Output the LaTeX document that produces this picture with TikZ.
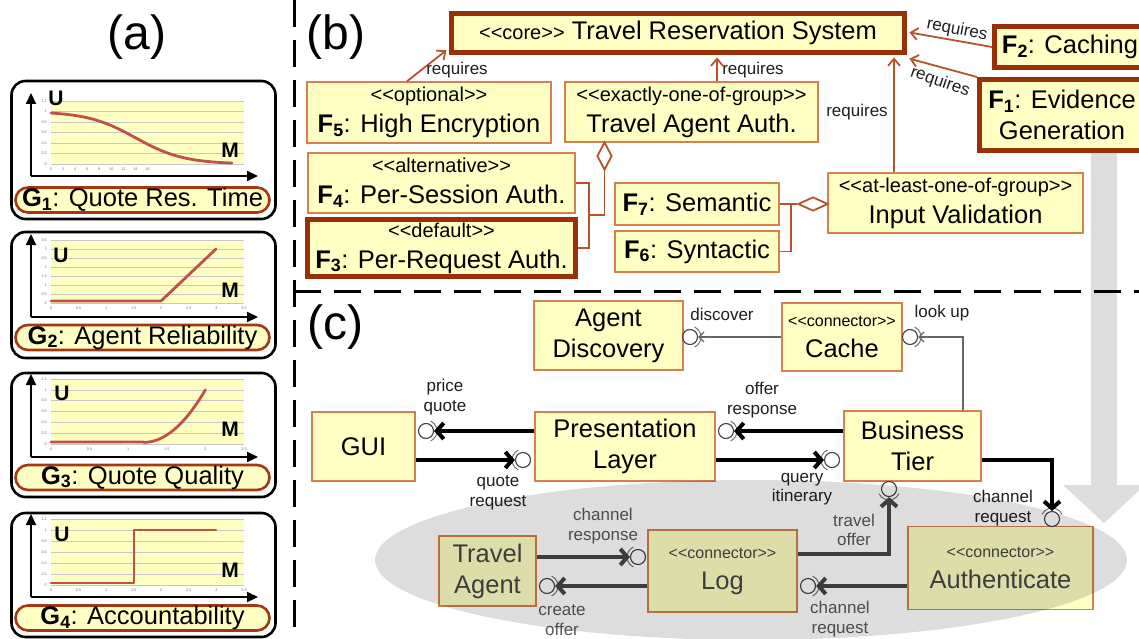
\documentclass[tikz,border=0pt]{standalone}
\usepackage{fontspec}
\setmainfont{Liberation Sans}
\usetikzlibrary{arrows.meta,shapes.geometric,calc}

\definecolor{boxfill}{RGB}{255,255,196}
\definecolor{boxline}{RGB}{214,128,76}
\definecolor{thickline}{RGB}{153,48,8}
\definecolor{reqline}{RGB}{183,82,42}
\definecolor{pillline}{RGB}{165,55,20}
\definecolor{plotyel}{RGB}{255,255,194}
\definecolor{curvered}{RGB}{192,80,77}
\definecolor{cfggray}{RGB}{221,221,221}

\newcommand\fmn{\fontsize{25.5}{31}\selectfont}
\newcommand\fst{\fontsize{20}{22}\selectfont}
\newcommand\fcn{\fontsize{16}{18}\selectfont}
\newcommand\flab{\fontsize{17}{19.5}\selectfont}
\newcommand\fpanel{\fontsize{48}{50}\selectfont}
\newcommand\ftick{\fontsize{3.8}{4}\selectfont}
\newcommand\stereo[1]{<\kern0pt<#1>\kern0pt>}
\newcommand\feat[2]{\textbf{#1\textsubscript{#2}}}
% socket half-circle around a ball, opening towards angle #2
\newcommand\sockarc[2]{\draw[sockstroke] ($(#1)+({#2-65}:11)$) arc[start angle={#2-65}, end angle={#2+65}, radius=11];}
% utility chart: #1 tag, #2 x-axis y, #3 plot top, #4 plot bottom,
% #5 y tick labels, #6 x tick labels, #7 y intervals, #8 x intervals
\newcommand\chart[8]{%
  \fill[plotyel] (51,#3) rectangle (244,#4);
  \foreach \v [count=\i from 0] in {#5} {
    \draw[gridl] (51,{#4-(#4-#3)*\i/#7}) -- (244,{#4-(#4-#3)*\i/#7});
    \node[tick,anchor=east] (#1y\i) at (47,{#4-(#4-#3)*\i/#7}) {\v};
  }
  \foreach \v [count=\i from 0] in {#6}
    \node[tick,anchor=north] (#1x\i) at ({51+193*\i/#8},{#4+4}) {\v};
  \draw[axisline] (31,#2) -- (31,{#2-83});
  \draw[axisline] (31,#2) -- (258,#2);
}

\begin{document}
\begin{tikzpicture}[x=1pt,y=-1pt,
  fbox/.style={draw=boxline, line width=1.5pt, fill=boxfill, inner sep=0pt, align=center, font=\fmn},
  fthick/.style={fbox, draw=thickline, line width=5pt},
  dimbox/.style={fbox, text=black!72},
  lab/.style={font=\flab, inner sep=0pt, align=center, text=black!88},
  dimlab/.style={lab, text=black!65},
  req/.style={draw=reqline, line width=1.8pt, -{Straight Barb[length=7pt,width=12pt]}},
  grp/.style={draw=reqline, line width=1.8pt},
  dia/.style={diamond, draw=reqline, line width=1.8pt, fill=white, inner sep=0pt},
  conn/.style={line width=4pt, -{Straight Barb[length=7pt,width=16pt]}},
  dimconn/.style={conn, draw=black!72},
  thinconn/.style={draw=black!60, line width=1.2pt, -{Straight Barb[length=5pt,width=10pt]}},
  ball/.style={circle, draw=black!75, line width=1.1pt, minimum size=15pt, inner sep=0pt},
  sockstroke/.style={draw=black!55, line width=1pt},
  gframe/.style={draw=black, line width=2.6pt, rounded corners=14pt, minimum width=264pt, inner sep=0pt},
  pill/.style={draw=pillline, line width=2.6pt, fill=boxfill, rounded corners=12.5pt, minimum width=254pt, minimum height=25pt, inner sep=0pt, font=\fmn},
  axisline/.style={line width=2.2pt, -{Triangle[length=11pt,width=10pt]}},
  gridl/.style={draw=black!22, line width=0.6pt},
  curve/.style={draw=curvered, line width=2.8pt, line join=round, line cap=round},
  axlab/.style={font=\fontsize{21}{21}\selectfont\bfseries, inner sep=0pt},
  tick/.style={font=\ftick, text=black!55, inner sep=0pt},
  panel/.style={font=\fpanel, inner sep=0pt},
  dashsep/.style={line width=3pt, dash pattern=on 27pt off 13pt}]

\useasboundingbox (0,0) rectangle (1139,639);
\clip (0,0) rectangle (1139,639);
\fill[white] (0,0) rectangle (1139,639);

% configuration arrow from (b) down to (c)
\fill[cfggray] (1091,153) rectangle (1117,486);
\fill[cfggray] (1063,485) -- (1145,485) -- (1104,523) -- cycle;

% panel separators
\draw[dashsep] (294,0) -- (294,639);
\draw[dashsep] (294,291) -- (1139,291);

% ---------------- (a) utility curves ----------------
\node[panel] (pa) at (137,37) {(a)};

\node[gframe, minimum height=138pt] (g1frame) at (143.5,150) {};
\node[gframe, minimum height=126pt] (g2frame) at (143.5,295) {};
\node[gframe, minimum height=124pt] (g3frame) at (143.5,435) {};
\node[gframe, minimum height=124pt] (g4frame) at (143.5,575) {};

\chart{a}{176}{101}{164}{0,0.2,0.4,0.6,0.8,1,1.2}{0,2,4,6,8,10,12,14,16}{6}{16}
\draw[curve] plot[domain=0:15,samples=80,smooth] ({51+\x*193/16},{164-52.5/(1+exp((\x-7)/2))});
\node[axlab] (u1) at (56,98) {U};
\node[axlab] (m1) at (230,150) {M};

\chart{b}{317}{240}{303}{0,0.5,1,1.5,2,2.5,3,3.5}{0,0.5,1,1.5,2,2.5,3,3.5}{7}{7}
\draw[curve] (51,301) -- (161,301) -- (216,249);
\node[axlab] (u2) at (61,255) {U};
\node[axlab] (m2) at (230,290) {M};

\chart{c}{457}{379}{444}{0,0.2,0.4,0.6,0.8,1,1.2}{0,0.5,1,1.5,2,2.5}{6}{5}
\draw[curve] (51,442) -- (143.6,442) -- plot[domain=1.2:2,samples=40,smooth] ({51+\x*193/2.5},{444-54.17*(0.03+0.97*((\x-1.2)/0.8)^2)});
\node[axlab] (u3) at (62,393) {U};
\node[axlab] (m3) at (230,429) {M};

\chart{d}{597}{519}{585}{0,0.2,0.4,0.6,0.8,1,1.2}{0,0.5,1,1.5,2,2.5,3,3.5}{6}{7}
\draw[curve] (51,583) -- (134,583) -- (134,530) -- (216,530);
\node[axlab] (u4) at (62,534) {U};
\node[axlab] (m4) at (230,570) {M};

\node[pill] (g1) at (142.5,200) {\feat{G}{1}: Quote Res. Time};
\node[pill] (g2) at (142.5,337.5) {\feat{G}{2}: Agent Reliability};
\node[pill] (g3) at (142.5,477.5) {\feat{G}{3}: Quote Quality};
\node[pill] (g4) at (142.5,618) {\feat{G}{4}: Accountability};

% ---------------- (b) feature model ----------------
\node[panel] (pb) at (336,37) {(b)};

\node[fthick, minimum width=453pt, minimum height=39pt] (core) at (678,33)
  {{\fst\stereo{core}} Travel Reservation System};
\node[fthick, minimum width=151pt, minimum height=41pt] (f2) at (1070,47)
  {\feat{F}{2}: Caching};
\node[fthick, minimum width=165pt, minimum height=71pt] (f1) at (1062,115)
  {\feat{F}{1}: Evidence\\Generation};
\node[fbox, minimum width=244pt, minimum height=61pt] (f5) at (429,112.5)
  {{\fst\stereo{optional}}\\\feat{F}{5}: High Encryption};
\node[fbox, minimum width=253pt, minimum height=60pt] (taa) at (691.5,112)
  {{\fst\stereo{exactly-one-of-group}}\\Travel Agent Auth.};
\node[fbox, minimum width=267pt, minimum height=60pt] (f4) at (441.5,183)
  {{\fst\stereo{alternative}}\\\feat{F}{4}: Per-Session Auth.};
\node[fthick, minimum width=268pt, minimum height=57pt] (f3) at (441.5,248)
  {{\fst\stereo{default}}\\\feat{F}{3}: Per-Request Auth.};
\node[fbox, minimum width=164pt, minimum height=42pt] (f7) at (697,204)
  {\feat{F}{7}: Semantic};
\node[fbox, minimum width=164pt, minimum height=41pt] (f6) at (697,251.5)
  {\feat{F}{6}: Syntactic};
\node[fbox, minimum width=255pt, minimum height=60pt] (iv) at (955.5,203)
  {{\fst\stereo{at-least-one-of-group}}\\Input Validation};

% requires dependencies
\draw[req, shorten >=2pt] ($(f5.north)+(-22,0)$) -- ($(core.south west)+(-1,-6)$);
\node[lab] (rq1) at (457,70) {requires};
\draw[req, shorten >=2.5pt] ($(taa.north)+(25.5,0)$) coordinate (rt) -- (rt |- core.south);
\node[lab] (rq2) at (753,70) {requires};
\draw[req, shorten >=2.5pt] ($(iv.north)+(-61.5,0)$) coordinate (ri) -- (ri |- core.south);
\node[lab] (rq3) at (857,112) {requires};
\draw[req, shorten >=2.5pt] (f2.west) -- ($(core.east)+(0,-1)$);
\node[lab, rotate=-11] (rq4) at (957,30) {requires};
\draw[req, shorten >=2.5pt] (f1.north west) -- ($(core.south east)+(0,3)$);
\node[lab, rotate=-19] (rq5) at (940,82) {requires};

% group relations
\node[dia, minimum width=15pt, minimum height=28pt] (d1) at (604.5,156) {};
\coordinate (j1) at (589,215);
\draw[grp] (d1.south) |- (j1);
\draw[grp] (f4.east) -| (j1) |- (f3.east);
\node[dia, minimum width=30pt, minimum height=14pt] (d2) at (813,204) {};
\coordinate (j2) at (791,204);
\draw[grp] (f7.east) -- (d2.west);
\draw[grp] (f6.east) -| (j2);

% ---------------- (c) component architecture ----------------
\node[panel] (pc) at (335,327) {(c)};

\node[fbox, minimum width=149pt, minimum height=69pt] (ad) at (608.5,335.5) {Agent\\Discovery};
\node[fbox, minimum width=120pt, minimum height=68pt] (cache) at (842,337) {{\fcn\stereo{connector}}\\Cache};
\node[fbox, minimum width=103pt, minimum height=69pt] (gui) at (363.5,446.5) {GUI};
\node[fbox, minimum width=180pt, minimum height=69pt] (pl) at (625,446.5) {Presentation\\Layer};
\node[fbox, minimum width=137pt, minimum height=70pt] (bt) at (912.5,446) {Business\\Tier};
\node[dimbox, minimum width=97pt, minimum height=70pt] (ta) at (487.5,571) {Travel\\Agent};
\node[dimbox, minimum width=149pt, minimum height=82pt] (log) at (722.5,571) {{\fcn\stereo{connector}}\\Log};
\node[dimbox, minimum width=185pt, minimum height=83pt] (auth) at (1000.5,568) {{\fcn\stereo{connector}}\\Authenticate};

% provided interfaces (balls)
\node[ball] (sdisc) at (690,337) {};
\node[ball] (slook) at (910,337) {};
\node[ball] (sprice) at (426,431) {};
\node[ball] (sqreq) at (523,460) {};
\node[ball] (soffer) at (726,431) {};
\node[ball] (squery) at (832,460) {};
\node[ball] (schan) at (1052,519) {};
\node[ball] (stravel) at (889,489) {};
\node[ball] (schresp) at (638,557) {};
\node[ball] (screate) at (547,586) {};
\node[ball] (schreq) at (808,586) {};

% required interfaces (sockets)
\sockarc{sdisc}{0}
\sockarc{slook}{0}
\sockarc{sprice}{0}
\sockarc{sqreq}{180}
\sockarc{soffer}{0}
\sockarc{squery}{180}
\sockarc{schan}{270}
\sockarc{stravel}{90}
\sockarc{schresp}{180}
\sockarc{screate}{0}
\sockarc{schreq}{0}

% connectors
\draw[thinconn] (cache.west) -- (sdisc);
\draw[thinconn] ($(bt.north)+(50.5,0)$) |- (slook);
\draw[conn] (pl.west |- sprice) -- (sprice);
\draw[conn] (gui.east |- sqreq) -- (sqreq);
\draw[conn] (bt.west |- soffer) -- (soffer);
\draw[conn] (pl.east |- squery) -- (squery);
\draw[conn] (bt.east |- squery) -| (schan);
\draw[dimconn] ($(log.east)+(0,-17)$) -| (stravel);
\draw[dimconn] (auth.west |- schreq) -- (schreq);
\draw[dimconn] (ta.east |- schresp) -- (schresp);
\draw[dimconn] (log.west |- screate) -- (screate);

% interface labels
\node[lab] (ldisc) at (722,314) {discover};
\node[lab] (llook) at (942,313) {look up};
\node[lab] (lprice) at (445,397) {price\\quote};
\node[lab] (loffer) at (762,400) {offer\\response};
\node[lab] (lqreq) at (498,493) {quote\\request};
\node[lab] (lquery) at (802,489) {query\\itinerary};
\node[lab] (lchan) at (1003,508) {channel\\request};
\node[dimlab] (ltravel) at (854,530) {travel\\offer};
\node[dimlab] (lchresp) at (603,526) {channel\\response};
\node[dimlab] (lcreate) at (562,620) {create\\offer};
\node[dimlab] (lchreq) at (840,619) {channel\\request};

% security concern region
\fill[black, fill opacity=0.135] (751,560) ellipse [x radius=376, y radius=80];

\end{tikzpicture}
\end{document}
